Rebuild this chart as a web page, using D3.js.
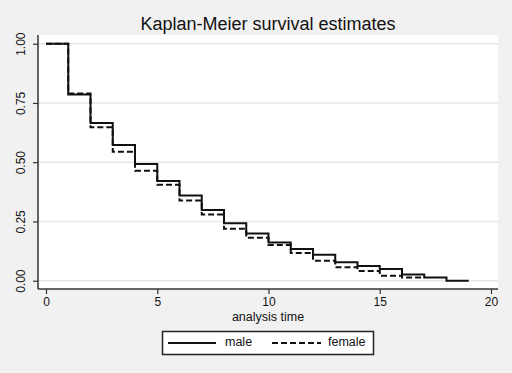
<!DOCTYPE html>
<html>
<head>
<meta charset="utf-8">
<script src="https://cdn.jsdelivr.net/npm/d3@7/dist/d3.min.js"></script>
<style>
  body { margin: 0; background: #f1f1f1; }
  text { font-family: "Liberation Sans", Arial, sans-serif; fill: #111; }
</style>
</head>
<body>
<div id="chart"></div>
<script>
"use strict";

// step start times and survival estimates
var maleTimes = [0, 1, 2, 3, 4, 5, 6, 7, 8, 9, 10, 11, 12, 13, 14, 15, 16, 17, 18];
var maleSurv  = [1.0, 0.786, 0.665, 0.573, 0.492, 0.421, 0.359, 0.298, 0.242, 0.199,
                 0.161, 0.134, 0.110, 0.078, 0.062, 0.049, 0.026, 0.013, 0.0];
var maleEnd = 19;

var femaleTimes = [0, 1, 2, 3, 4, 5, 6, 7, 8, 9, 10, 11, 12, 13, 14, 15, 16];
var femaleSurv  = [1.0, 0.79, 0.647, 0.544, 0.464, 0.405, 0.338, 0.279, 0.219, 0.181,
                   0.151, 0.117, 0.084, 0.057, 0.041, 0.021, 0.013];
var femaleEnd = 17;

var xTicks = [0, 5, 10, 15, 20];
var yTicks = [0, 0.25, 0.5, 0.75, 1];
var seriesNames = ["male", "female"];

var W = 512, H = 373;
var plot = { left: 38, right: 498, top: 35, bottom: 289 };

var svg = d3.select("#chart")
            .append("svg")
            .attr("width", W)
            .attr("height", H);

svg.append("rect")
   .attr("width", W).attr("height", H)
   .attr("fill", "#f1f1f1");

svg.append("rect")
   .attr("x", plot.left).attr("y", plot.top)
   .attr("width", plot.right - plot.left)
   .attr("height", plot.bottom - plot.top)
   .attr("fill", "#ffffff");

var x = d3.scaleLinear().domain([0, 20]).range([46, 491]);
var y = d3.scaleLinear().domain([0, 1]).range([280.7, 43.7]);

// gridlines
svg.append("g")
   .selectAll("line")
   .data(yTicks)
   .enter()
   .append("line")
   .attr("x1", plot.left).attr("x2", plot.right)
   .attr("y1", function(d) { return y(d); })
   .attr("y2", function(d) { return y(d); })
   .attr("stroke", "#e6e6e6")
   .attr("stroke-width", 1.5);

// axes
var yAxis = svg.append("g")
   .attr("transform", "translate(" + plot.left + ",0)")
   .call(d3.axisLeft(y).tickValues(yTicks).tickFormat(d3.format(".2f")).tickSize(5).tickPadding(0));
yAxis.select(".domain").remove();
yAxis.selectAll("line").attr("stroke", "#333").attr("stroke-width", 1.2);
yAxis.selectAll("text")
   .attr("x", 0).attr("dy", 0).attr("y", -13)
   .attr("transform", "rotate(-90)")
   .attr("text-anchor", "middle")
   .style("font-size", "12px")
   .style("font-family", "Liberation Sans, Arial, sans-serif")
   .attr("fill", "#111");

var xAxis = svg.append("g")
   .attr("transform", "translate(0," + plot.bottom + ")")
   .call(d3.axisBottom(x).tickValues(xTicks).tickSize(5).tickPadding(3));
xAxis.select(".domain").remove();
xAxis.selectAll("line").attr("stroke", "#333").attr("stroke-width", 1.2);
xAxis.selectAll("text")
   .style("font-size", "12px")
   .style("font-family", "Liberation Sans, Arial, sans-serif")
   .attr("fill", "#111");

svg.append("line")
   .attr("x1", plot.left).attr("x2", plot.left)
   .attr("y1", plot.top).attr("y2", plot.bottom)
   .attr("stroke", "#333").attr("stroke-width", 1.5);
svg.append("line")
   .attr("x1", plot.left).attr("x2", plot.right)
   .attr("y1", plot.bottom).attr("y2", plot.bottom)
   .attr("stroke", "#333").attr("stroke-width", 1.5);

// survival curves
var stepLine = d3.line()
   .x(function(d) { return x(d[0]); })
   .y(function(d) { return y(d[1]); })
   .curve(d3.curveStepAfter);

var stepPoints = function(times, surv, end) {
  var pts = times.map(function(t, i) { return [t, surv[i]]; });
  pts.push([end, surv[surv.length - 1]]);
  return pts;
};

svg.append("path")
   .attr("d", stepLine(stepPoints(femaleTimes, femaleSurv, femaleEnd)))
   .attr("fill", "none")
   .attr("stroke", "#111")
   .attr("stroke-width", 2)
   .attr("stroke-dasharray", "6,3");

svg.append("path")
   .attr("d", stepLine(stepPoints(maleTimes, maleSurv, maleEnd)))
   .attr("fill", "none")
   .attr("stroke", "#111")
   .attr("stroke-width", 2);

// titles
svg.append("text")
   .attr("x", (plot.left + plot.right) / 2)
   .attr("y", 30)
   .attr("text-anchor", "middle")
   .style("font-size", "18px")
   .text("Kaplan-Meier survival estimates");

svg.append("text")
   .attr("x", (plot.left + plot.right) / 2)
   .attr("y", 321)
   .attr("text-anchor", "middle")
   .style("font-size", "12.5px")
   .text("analysis time");

// legend
var legend = svg.append("g");
legend.append("rect")
   .attr("x", 162.5).attr("y", 331.5)
   .attr("width", 211).attr("height", 23)
   .attr("fill", "#ffffff")
   .attr("stroke", "#222")
   .attr("stroke-width", 1.5);

var legendItems = [
  { name: seriesNames[0], x1: 168, x2: 216, tx: 225, dash: null },
  { name: seriesNames[1], x1: 272, x2: 321, tx: 328, dash: "6,3" }
];
legendItems.forEach(function(d) {
  legend.append("line")
     .attr("x1", d.x1).attr("x2", d.x2)
     .attr("y1", 343).attr("y2", 343)
     .attr("stroke", "#111")
     .attr("stroke-width", 2)
     .attr("stroke-dasharray", d.dash);
  legend.append("text")
     .attr("x", d.tx).attr("y", 346)
     .style("font-size", "12.5px")
     .text(d.name);
});
</script>
</body>
</html>
